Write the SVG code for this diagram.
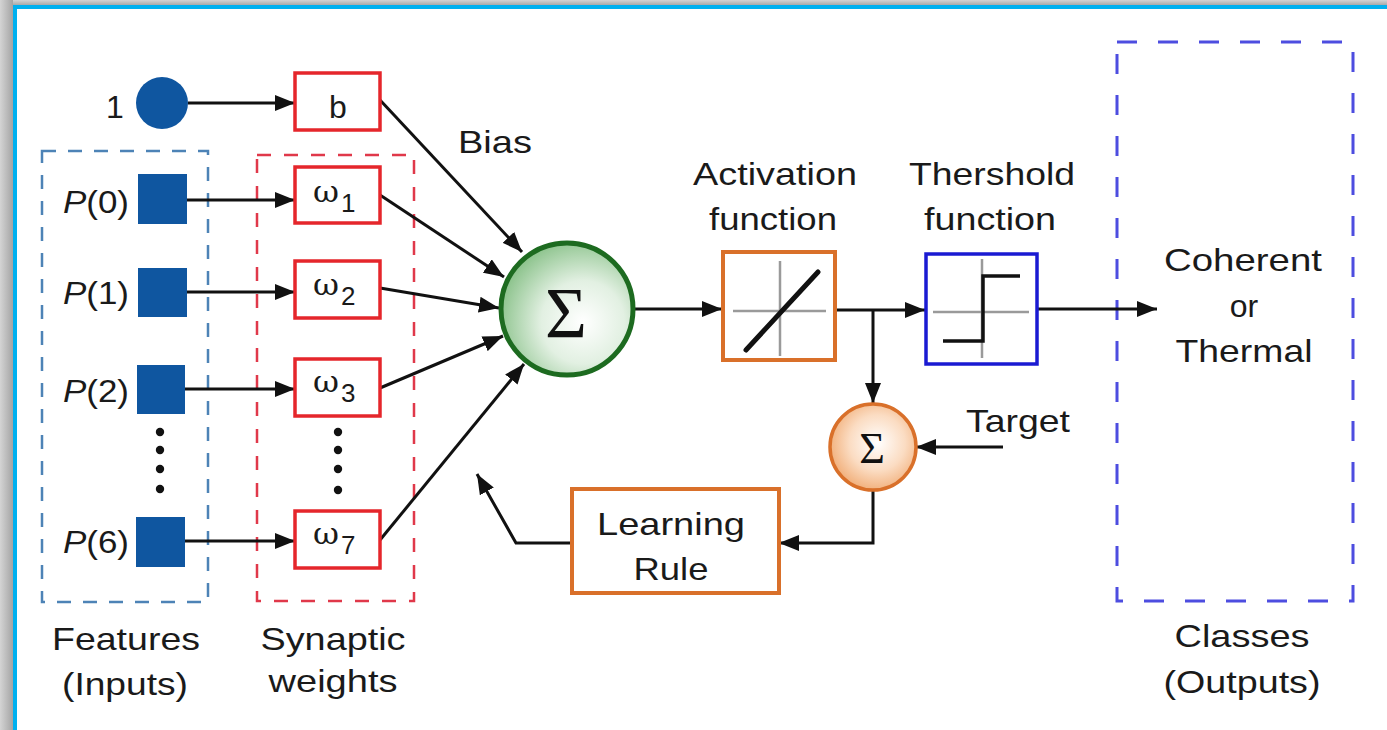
<svg xmlns="http://www.w3.org/2000/svg" width="1387" height="730" viewBox="0 0 1387 730">
<defs>
  <marker id="ah" markerUnits="userSpaceOnUse" markerWidth="22" markerHeight="16" refX="20" refY="8" orient="auto">
    <path d="M0,0 L20,8 L0,16 z" fill="#111"/>
  </marker>
  <linearGradient id="shL" x1="0" y1="0" x2="1" y2="0">
    <stop offset="0" stop-color="#d4d4d4"/><stop offset="1" stop-color="#a4a4a4"/>
  </linearGradient>
  <linearGradient id="shT" x1="0" y1="0" x2="0" y2="1">
    <stop offset="0" stop-color="#d4d4d4"/><stop offset="1" stop-color="#a0a0a0"/>
  </linearGradient>
  <radialGradient id="gGreen" cx="0.62" cy="0.6" r="0.7">
    <stop offset="0" stop-color="#ffffff"/><stop offset="0.45" stop-color="#e2f0e2"/><stop offset="1" stop-color="#7dbb7d"/>
  </radialGradient>
  <radialGradient id="gOrange" cx="0.55" cy="0.45" r="0.65">
    <stop offset="0" stop-color="#ffffff"/><stop offset="0.5" stop-color="#fbdcc2"/><stop offset="1" stop-color="#eea062"/>
  </radialGradient>
  <style>
    .t { font-family: "Liberation Sans", Arial, sans-serif; font-size: 32px; fill: #1a1a1a; text-anchor: middle; }
    .p { font-family: "Liberation Sans", Arial, sans-serif; font-size: 32px; fill: #1a1a1a; text-anchor: end; }
    .w { font-family: "DejaVu Serif", "Liberation Serif", serif; font-size: 30px; fill: #1a1a1a; }
    .sub { font-family: "Liberation Sans", Arial, sans-serif; font-size: 26px; fill: #1a1a1a; }
    .sig { font-family: "Liberation Serif", "Times New Roman", serif; fill: #111; text-anchor: middle; }
    .wbox { fill: #fff; stroke: #e5262b; stroke-width: 3.5; }
    .sq { fill: #0f56a0; }
    .dot { fill: #111; }
    .conn { fill: none; stroke: #111; stroke-width: 3; }
    .orng { fill: #fff; stroke: #d9702a; stroke-width: 4; }
    .axis { stroke: #9a9a9a; stroke-width: 2.5; }
  </style>
</defs>

<!-- frame -->
<rect x="0" y="0" width="1387" height="730" fill="#ffffff"/>
<rect x="0" y="0" width="1387" height="6" fill="url(#shT)"/>
<rect x="0" y="0" width="13" height="730" fill="url(#shL)"/>
<rect x="13" y="5" width="1374" height="4" fill="#00b0ef"/>
<rect x="13" y="5" width="4" height="725" fill="#00b0ef"/>

<!-- group boxes -->
<g id="features-group">
  <rect x="42" y="151" width="166" height="451" fill="none" stroke="#4d83b6" stroke-width="2.5" stroke-dasharray="14 12"/>
  <text class="t" x="126" y="650" textLength="148" lengthAdjust="spacingAndGlyphs">Features</text>
  <text class="t" x="125" y="695" textLength="126" lengthAdjust="spacingAndGlyphs">(Inputs)</text>
</g>
<g id="synaptic-group">
  <rect x="257" y="155" width="157" height="446" fill="none" stroke="#e0384a" stroke-width="2.5" stroke-dasharray="14 13"/>
  <text class="t" x="333" y="650" textLength="145" lengthAdjust="spacingAndGlyphs">Synaptic</text>
  <text class="t" x="333" y="692" textLength="129" lengthAdjust="spacingAndGlyphs">weights</text>
</g>
<g id="classes-group">
  <rect x="1117" y="42" width="236" height="559" fill="none" stroke="#4d4de0" stroke-width="3" stroke-dasharray="20 21"/>
  <text class="t" x="1242" y="647" textLength="135" lengthAdjust="spacingAndGlyphs">Classes</text>
  <text class="t" x="1242" y="693" textLength="157" lengthAdjust="spacingAndGlyphs">(Outputs)</text>
  <text class="t" x="1243" y="271" textLength="158" lengthAdjust="spacingAndGlyphs">Coherent</text>
  <text class="t" x="1244" y="317">or</text>
  <text class="t" x="1244" y="362" textLength="137" lengthAdjust="spacingAndGlyphs">Thermal</text>
</g>

<!-- connectors -->
<g id="connectors">
  <line class="conn" x1="188" y1="103" x2="295" y2="103" marker-end="url(#ah)"/>
  <line class="conn" x1="187" y1="200" x2="295" y2="200" marker-end="url(#ah)"/>
  <line class="conn" x1="187" y1="292" x2="295" y2="292" marker-end="url(#ah)"/>
  <line class="conn" x1="185" y1="389" x2="295" y2="389" marker-end="url(#ah)"/>
  <line class="conn" x1="185" y1="541" x2="295" y2="541" marker-end="url(#ah)"/>
  <line class="conn" x1="380" y1="100" x2="522" y2="252" marker-end="url(#ah)"/>
  <line class="conn" x1="380" y1="195" x2="504" y2="277" marker-end="url(#ah)"/>
  <line class="conn" x1="380" y1="288" x2="499" y2="308" marker-end="url(#ah)"/>
  <line class="conn" x1="380" y1="388" x2="503" y2="336" marker-end="url(#ah)"/>
  <line class="conn" x1="380" y1="540" x2="524" y2="364" marker-end="url(#ah)"/>
  <line class="conn" x1="635" y1="309" x2="722" y2="309" marker-end="url(#ah)"/>
  <line class="conn" x1="835" y1="310" x2="925" y2="310" marker-end="url(#ah)"/>
  <line class="conn" x1="873" y1="310" x2="873" y2="403" marker-end="url(#ah)"/>
  <line class="conn" x1="1037" y1="309" x2="1157" y2="309" marker-end="url(#ah)"/>
  <line class="conn" x1="1003" y1="447" x2="916" y2="447" marker-end="url(#ah)"/>
  <polyline class="conn" points="873,491 873,543 779,543" marker-end="url(#ah)"/>
  <polyline class="conn" points="572,543 516,543 477,474" marker-end="url(#ah)"/>
</g>

<!-- bias input -->
<g id="bias-input">
  <circle cx="162" cy="103" r="26" fill="#0f56a0"/>
  <text class="t" x="115" y="118">1</text>
</g>
<g id="bias-weight">
  <rect class="wbox" x="295" y="73" width="85" height="57"/>
  <text class="t" x="338" y="118">b</text>
</g>
<text class="t" x="495" y="153" textLength="74" lengthAdjust="spacingAndGlyphs">Bias</text>

<!-- inputs -->
<g id="p0"><rect class="sq" x="138" y="174" width="49" height="50"/>
  <text class="p" x="129" y="213" textLength="66" lengthAdjust="spacingAndGlyphs"><tspan font-style="italic">P</tspan>(0)</text></g>
<g id="p1"><rect class="sq" x="138" y="268" width="49" height="49"/>
  <text class="p" x="129" y="304" textLength="66" lengthAdjust="spacingAndGlyphs"><tspan font-style="italic">P</tspan>(1)</text></g>
<g id="p2"><rect class="sq" x="137" y="365" width="48" height="49"/>
  <text class="p" x="129" y="402" textLength="66" lengthAdjust="spacingAndGlyphs"><tspan font-style="italic">P</tspan>(2)</text></g>
<g id="p6"><rect class="sq" x="136" y="517" width="49" height="50"/>
  <text class="p" x="129" y="553" textLength="66" lengthAdjust="spacingAndGlyphs"><tspan font-style="italic">P</tspan>(6)</text></g>
<g id="input-dots">
  <circle class="dot" cx="160" cy="432" r="4.2"/><circle class="dot" cx="160" cy="450" r="4.2"/>
  <circle class="dot" cx="160" cy="469" r="4.2"/><circle class="dot" cx="160" cy="489" r="4.2"/>
</g>

<!-- weights -->
<g id="w1"><rect class="wbox" x="295" y="167" width="85" height="56"/>
  <text class="w" x="313" y="202" textLength="26" lengthAdjust="spacingAndGlyphs">ω</text><text class="sub" x="341" y="212">1</text></g>
<g id="w2"><rect class="wbox" x="295" y="261" width="85" height="57"/>
  <text class="w" x="313" y="295" textLength="26" lengthAdjust="spacingAndGlyphs">ω</text><text class="sub" x="341" y="305">2</text></g>
<g id="w3"><rect class="wbox" x="295" y="359" width="85" height="57"/>
  <text class="w" x="313" y="392" textLength="26" lengthAdjust="spacingAndGlyphs">ω</text><text class="sub" x="341" y="402">3</text></g>
<g id="w7"><rect class="wbox" x="295" y="511" width="85" height="57"/>
  <text class="w" x="313" y="544" textLength="26" lengthAdjust="spacingAndGlyphs">ω</text><text class="sub" x="341" y="554">7</text></g>
<g id="weight-dots">
  <circle class="dot" cx="338" cy="432" r="4.2"/><circle class="dot" cx="338" cy="450" r="4.2"/>
  <circle class="dot" cx="338" cy="469" r="4.2"/><circle class="dot" cx="338" cy="490" r="4.2"/>
</g>

<!-- summation -->
<g id="sum">
  <circle cx="567" cy="309" r="66" fill="url(#gGreen)" stroke="#1d6b20" stroke-width="5"/>
  <text class="sig" x="566" y="337" font-size="72">Σ</text>
</g>

<!-- activation -->
<g id="activation">
  <text class="t" x="775" y="185" textLength="164" lengthAdjust="spacingAndGlyphs">Activation</text>
  <text class="t" x="773" y="230" textLength="128" lengthAdjust="spacingAndGlyphs">function</text>
  <rect class="orng" x="723" y="252" width="112" height="108"/>
  <line class="axis" x1="733" y1="311" x2="826" y2="311"/>
  <line class="axis" x1="780" y1="261" x2="780" y2="356"/>
  <line x1="746" y1="350" x2="818" y2="272" stroke="#111" stroke-width="5" stroke-linecap="round"/>
</g>

<!-- threshold -->
<g id="threshold">
  <text class="t" x="992" y="185" textLength="166" lengthAdjust="spacingAndGlyphs">Thershold</text>
  <text class="t" x="990" y="230" textLength="132" lengthAdjust="spacingAndGlyphs">function</text>
  <rect x="926" y="254" width="111" height="110" fill="#fff" stroke="#1a1ad2" stroke-width="3.5"/>
  <line class="axis" x1="933" y1="312" x2="1029" y2="312"/>
  <line class="axis" x1="982" y1="259" x2="982" y2="358"/>
  <polyline points="943,341 983,341 983,276 1020,276" fill="none" stroke="#111" stroke-width="3.5"/>
</g>

<!-- error sum -->
<g id="error-sum">
  <circle cx="873" cy="447" r="43" fill="url(#gOrange)" stroke="#d9702a" stroke-width="3.5"/>
  <text class="sig" x="872" y="463" font-size="44">Σ</text>
</g>
<text class="t" x="1018" y="432" textLength="104" lengthAdjust="spacingAndGlyphs">Target</text>

<!-- learning rule -->
<g id="learning-rule">
  <rect class="orng" x="572" y="489" width="207" height="104"/>
  <text class="t" x="671" y="535" textLength="148" lengthAdjust="spacingAndGlyphs">Learning</text>
  <text class="t" x="671" y="580" textLength="75" lengthAdjust="spacingAndGlyphs">Rule</text>
</g>
</svg>
